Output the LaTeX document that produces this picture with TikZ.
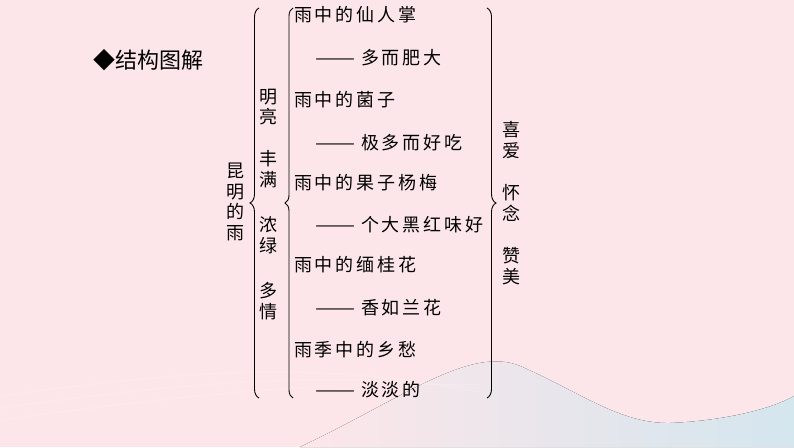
\documentclass[tikz,border=0pt]{standalone}
\usepackage{fontspec}
\setmainfont{Noto Sans CJK SC}
\usetikzlibrary{decorations.pathreplacing}
\definecolor{bgpink}{RGB}{253,230,233}
\definecolor{bgblue}{RGB}{212,230,238}
\makeatletter
\newcommand\spchars[1]{\@tfor\myc:=#1\do{\makebox[20.8pt][l]{\myc}}}
\makeatother
\newcommand\mydash{\makebox[46pt][l]{\resizebox{40pt}{\height}{——}}}
\begin{document}
\begin{tikzpicture}[x=1pt,y=-1pt,
  every node/.style={inner sep=0pt},
  item/.style={anchor=west,font=\fontsize{18}{21}\selectfont},
  vlabel/.style={align=center,font=\fontsize{18}{20.8}\selectfont},
  bracestyle/.style={decorate,decoration={brace,amplitude=9pt},line width=0.9pt}]
\fill[bgpink] (0,0) rectangle (794,447);
\useasboundingbox (0,0) rectangle (794,447);
% wave
\fill[left color=bgpink, right color=bgblue]
  (300,447) .. controls (400,400) and (470,345) .. (520,366)
  .. controls (580,392) and (620,424) .. (670,423)
  .. controls (720,421) and (770,410) .. (794,396) -- (794,447) -- cycle;
\foreach \dy in {0,12,24}
  \draw[white,opacity=0.12,line width=1.5pt]
    (0,420-\dy) .. controls (150,400-\dy) and (300,380-\dy) .. (480,385+\dy*0.3);
% title
\node[anchor=west,font=\fontsize{22}{22}\selectfont] (title) at (93,60) {◆结构图解};
% labels
\node[vlabel] (root) at (235,202) {昆\\明\\的\\雨};
\node[vlabel] (f1) at (268,107) {明\\亮};
\node[vlabel] (f2) at (268,169) {丰\\满};
\node[vlabel] (f3) at (268,235) {浓\\绿};
\node[vlabel] (f4) at (268,301) {多\\情};
\node[vlabel] (e1) at (511,140) {喜\\爱};
\node[vlabel] (e2) at (511,203) {怀\\念};
\node[vlabel] (e3) at (511,266) {赞\\美};
% rows
\node[item] (r1) at (294,15) {\spchars{雨中的仙人掌}};
\node[item] (r2) at (315,58) {\mydash\spchars{多而肥大}};
\node[item] (r3) at (294,100) {\spchars{雨中的菌子}};
\node[item] (r4) at (315,143) {\mydash\spchars{极多而好吃}};
\node[item] (r5) at (294,183) {\spchars{雨中的果子杨梅}};
\node[item] (r6) at (315,225) {\mydash\spchars{个大黑红味好}};
\node[item] (r7) at (294,265) {\spchars{雨中的缅桂花}};
\node[item] (r8) at (315,308) {\mydash\spchars{香如兰花}};
\node[item] (r9) at (294,350) {\spchars{雨季中的乡愁}};
\node[item] (r10) at (315,390) {\mydash\spchars{淡淡的}};
% braces
\coordinate (b1s) at (259,398); \coordinate (b1e) at (259,8);
\coordinate (b2s) at (293,398); \coordinate (b2e) at (293,8);
\coordinate (b3s) at (487,8);   \coordinate (b3e) at (487,398);
\draw[bracestyle] (b1s) -- (b1e);
\draw[bracestyle,decoration={amplitude=8pt}] (b2s) -- (b2e);
\draw[bracestyle] (b3s) -- (b3e);
\end{tikzpicture}
\end{document}
